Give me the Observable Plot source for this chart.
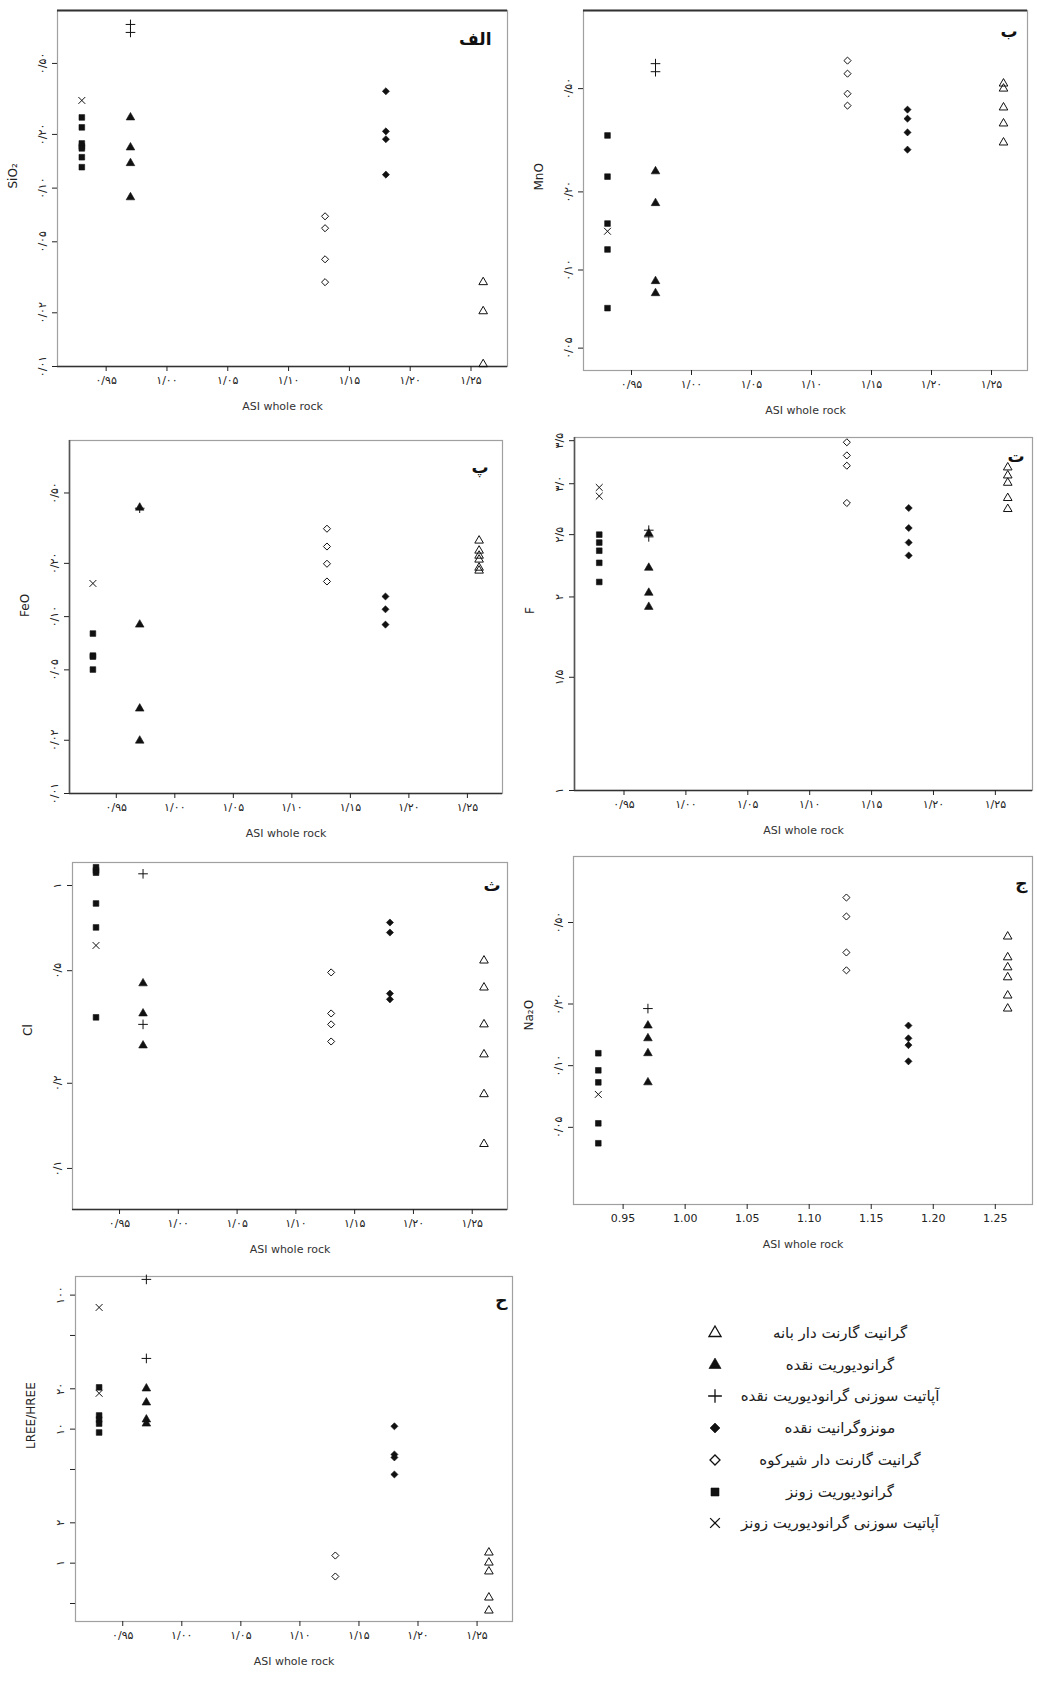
<!DOCTYPE html>
<html><head><meta charset="utf-8">
<script src="https://cdn.jsdelivr.net/npm/d3@7"></script>
<script src="https://cdn.jsdelivr.net/npm/@observablehq/plot@0.6"></script>
<style>
body{margin:0;background:#fff;}
#page{position:relative;width:1037px;height:1681px;background:#fff;overflow:hidden;font-family:"DejaVu Sans",sans-serif;}
.panel{position:absolute;}
.leg-sym{position:absolute;width:20px;height:20px;}
.leg-txt{position:absolute;width:280px;text-align:center;direction:rtl;font-size:15px;color:#222;line-height:20px;white-space:nowrap;}
</style></head><body><div id="page"></div>
<script>
// ---- categories (legend order) ----
const groups = [
  "گرانیت گارنت دار بانه",
  "گرانودیوریت نقده",
  "آپاتیت سوزنی گرانودیوریت نقده",
  "مونزوگرانیت نقده",
  "گرانیت گارنت دار شیرکوه",
  "گرانودیوریت زونز",
  "آپاتیت سوزنی گرانودیوریت زونز"
];
const groupASI = [1.26, 0.97, 0.97, 1.18, 1.13, 0.93, 0.93];
const groupSymbol = ["triangle", "triangle", "plus", "diamond2", "diamond2", "square", "times"];
const groupFilled = [false, true, false, true, false, true, false];

// ---- x ticks ----
const xTicks = [0.95, 1.00, 1.05, 1.10, 1.15, 1.20, 1.25];
const xTickLabelsFa = ["۰/۹۵", "۱/۰۰", "۱/۰۵", "۱/۱۰", "۱/۱۵", "۱/۲۰", "۱/۲۵"];
const xTickLabelsEn = ["0.95", "1.00", "1.05", "1.10", "1.15", "1.20", "1.25"];

// ---- series values (one array per group, legend order) ----
const SiO2 = [
  [0.0297, 0.0204, 0.0103],
  [0.249, 0.169, 0.138, 0.0888],
  [0.827, 0.746],
  [0.349, 0.208, 0.188, 0.119],
  [0.0695, 0.0596, 0.0399, 0.0297],
  [0.249, 0.219, 0.178, 0.171, 0.167, 0.149, 0.131],
  [0.310]
];
const MnO = [
  [0.523, 0.5, 0.423, 0.367, 0.310],
  [0.240, 0.181, 0.0906, 0.0814],
  [0.624, 0.581],
  [0.415, 0.383, 0.339, 0.291],
  [0.641, 0.571, 0.478, 0.430],
  [0.330, 0.229, 0.151, 0.120, 0.0713],
  [0.141]
];
const FeO = [
  [0.269, 0.236, 0.221, 0.210, 0.189, 0.182],
  [0.413, 0.0901, 0.0302, 0.0199],
  [0.41],
  [0.130, 0.110, 0.0901],
  [0.314, 0.249, 0.199, 0.158],
  [0.0802, 0.0602, 0.0594, 0.0502],
  [0.154]
];
const F = [
  [3.18, 3.09, 3.01, 2.85, 2.74],
  [2.51, 2.22, 2.03, 1.93],
  [2.54, 2.48],
  [2.75, 2.56, 2.43, 2.32],
  [3.48, 3.32, 3.20, 2.80],
  [2.50, 2.43, 2.36, 2.26, 2.11],
  [2.96, 2.87]
];
const Cl = [
  [0.543, 0.436, 0.323, 0.253, 0.183, 0.122],
  [0.451, 0.353, 0.272],
  [1.10, 0.323],
  [0.740, 0.682, 0.415, 0.396],
  [0.493, 0.353, 0.323, 0.281],
  [1.16, 1.13, 1.11, 0.864, 0.711, 0.342],
  [0.614]
];
const Na2O = [
  [0.427, 0.338, 0.302, 0.270, 0.220, 0.190],
  [0.157, 0.136, 0.115, 0.0829],
  [0.190],
  [0.157, 0.136, 0.126, 0.105],
  [0.662, 0.535, 0.357, 0.292],
  [0.115, 0.0949, 0.0829, 0.0523, 0.0418],
  [0.0724]
];
const LREE_HREE = [
  [1.20, 1.01, 0.867, 0.554, 0.443],
  [20.1, 15.8, 11.8, 11.0],
  [131, 33.7],
  [10.5, 6.47, 6.15, 4.59],
  [1.14, 0.795],
  [20.5, 12.65, 11.8, 11.0, 9.44],
  [80.9, 18.5]
];

// ---- y ticks and tick labels ----
const ticksSmall = [0.5, 0.2, 0.1, 0.05, 0.02, 0.01];
const ticksSmallLabels = ["۰/۵۰", "۰/۲۰", "۰/۱۰", "۰/۰۵", "۰/۰۲", "۰/۰۱"];
const ticksMnO = [0.5, 0.2, 0.1, 0.05];
const ticksMnOLabels = ["۰/۵۰", "۰/۲۰", "۰/۱۰", "۰/۰۵"];
const ticksF = [3.5, 3.0, 2.5, 2.0, 1.5, 1.0];
const ticksFLabels = ["۳/۵", "۳/۰", "۲/۵", "۲", "۱/۵", "۱"];
const ticksCl = [1, 0.5, 0.2, 0.1];
const ticksClLabels = ["۱", "۰/۵", "۰/۲", "۰/۱"];
const ticksNa = [0.5, 0.2, 0.1, 0.05];
const ticksNaLabels = ["۰/۵۰", "۰/۲۰", "۰/۱۰", "۰/۰۵"];
const ticksREE = [100, 50, 20, 10, 5, 2, 1, 0.5];
const ticksREELabels = ["۱۰۰", "۵۰", "۲۰", "۱۰", "۵", "۲", "۱", "۰/۵"];

const xTitle = "ASI whole rock";

// ---- panel layout (frame box in page pixels, letter offset) ----
const panels = [
  {letter: "الف", label: "SiO₂", values: SiO2, domain: [0.01, 0.99], ticks: ticksSmall, tickLabels: ticksSmallLabels, frame: [57, 10, 507, 366], dark: ["top", "bottom"], latin: false, lo: [-16, 22]},
  {letter: "ب", label: "MnO", values: MnO, domain: [0.041, 1.0], ticks: ticksMnO, tickLabels: ticksMnOLabels, frame: [583, 10, 1027, 370], dark: ["top"], latin: false, lo: [-10, 14]},
  {letter: "پ", label: "FeO", values: FeO, domain: [0.01, 0.99], ticks: ticksSmall, tickLabels: ticksSmallLabels, frame: [69, 440, 502, 793], dark: ["left", "bottom"], latin: false, lo: [-14, 20]},
  {letter: "ت", label: "F", values: F, domain: [1, 3.54], ticks: ticksF, tickLabels: ticksFLabels, frame: [574, 437, 1032, 790], dark: ["left", "bottom"], latin: false, lo: [-8, 12]},
  {letter: "ث", label: "Cl", values: Cl, domain: [0.0716, 1.206], ticks: ticksCl, tickLabels: ticksClLabels, frame: [72, 862, 507, 1209], dark: ["bottom"], latin: false, lo: [-7, 16]},
  {letter: "ج", label: "Na₂O", values: Na2O, domain: [0.021, 1.05], ticks: ticksNa, tickLabels: ticksNaLabels, frame: [573, 856, 1032, 1204], dark: [], latin: true, lo: [-5, 20]},
  {letter: "ح", label: "LREE/HREE", values: LREE_HREE, domain: [0.367, 137.7], ticks: ticksREE, tickLabels: ticksREELabels, frame: [75, 1276, 512, 1621], dark: [], latin: false, lo: [-5, 17]}
];
const xDomain = [0.91, 1.28];

const page = document.getElementById("page");
const ML = 56, MR = 4, MT = 6, MB = 54;

panels.forEach(p => {
  const [L, T, R, B] = p.frame;
  const yLab = new Map(p.ticks.map((t, i) => [t, p.tickLabels[i]]));
  const xLabs = p.latin ? xTickLabelsEn : xTickLabelsFa;
  const xLab = new Map(xTicks.map((t, i) => [t, xLabs[i]]));
  const rows = p.values.flatMap((arr, gi) => arr.map(v => ({asi: groupASI[gi], v, g: gi})));
  const darkRules = [];
  if (p.dark.includes("bottom")) darkRules.push(Plot.ruleY([p.domain[0]], {stroke: "#333", strokeWidth: 1.6}));
  if (p.dark.includes("top")) darkRules.push(Plot.ruleY([p.domain[1]], {stroke: "#333", strokeWidth: 2}));
  if (p.dark.includes("left")) darkRules.push(Plot.ruleX([xDomain[0]], {stroke: "#555", strokeWidth: 1.6}));
  const dots = groups.map((g, gi) => Plot.dot(rows.filter(d => d.g === gi), {
    x: "asi", y: "v",
    symbol: groupSymbol[gi],
    r: 3.2,
    fill: groupFilled[gi] ? "#111" : "none",
    stroke: "#111",
    strokeWidth: groupFilled[gi] ? 0.6 : 1
  }));
  const chart = Plot.plot({
    width: R - L + ML + MR,
    height: B - T + MT + MB,
    marginLeft: ML, marginRight: MR, marginTop: MT, marginBottom: MB,
    style: {fontFamily: "DejaVu Sans, sans-serif", fontSize: "11px", background: "transparent", overflow: "visible", color: "#222"},
    x: {domain: xDomain},
    y: {type: "log", domain: p.domain},
    marks: [
      Plot.frame({stroke: "#a0a0a0", strokeWidth: 1.2}),
      ...darkRules,
      Plot.axisX({ticks: xTicks, tickFormat: d => xLab.get(d), tickSize: 5, tickPadding: 5, label: null, fontSize: 11}),
      Plot.axisY({ticks: p.ticks, tickFormat: d => yLab.get(d), tickRotate: -90, tickSize: 5, tickPadding: 7, label: null, fontSize: 11}),
      ...dots,
      Plot.text([p.label], {frameAnchor: "left", rotate: -90, dx: -44, fontSize: 12, fill: "#222"}),
      Plot.text([xTitle], {frameAnchor: "bottom", dy: 43, fontSize: 11, fill: "#333"}),
      Plot.text([p.letter], {frameAnchor: "top-right", dx: p.lo[0], dy: p.lo[1], fontSize: 17, fontWeight: "bold", fill: "#111"})
    ]
  });
  chart.classList.add("panel");
  chart.style.left = (L - ML) + "px";
  chart.style.top = (T - MT) + "px";
  page.appendChild(chart);
});

// ---- legend ----
const symbolTypes = {triangle: d3.symbolTriangle, plus: d3.symbolPlus, diamond2: d3.symbolDiamond2, square: d3.symbolSquare, times: d3.symbolTimes};
groups.forEach((g, gi) => {
  const cy = 1333 + gi * 31.7;
  const path = d3.symbol(symbolTypes[groupSymbol[gi]], Math.PI * 4.5 * 4.5)();
  const sym = document.createElement("div");
  sym.className = "leg-sym";
  sym.style.left = (715 - 10) + "px";
  sym.style.top = (cy - 10) + "px";
  sym.innerHTML = `<svg width="20" height="20" viewBox="-10 -10 20 20"><path d="${path}" fill="${groupFilled[gi] ? "#111" : "none"}" stroke="#111" stroke-width="${groupFilled[gi] ? 0.6 : 1.3}"/></svg>`;
  page.appendChild(sym);
  const txt = document.createElement("div");
  txt.className = "leg-txt";
  txt.style.left = (840 - 140) + "px";
  txt.style.top = (cy - 10) + "px";
  txt.textContent = g;
  page.appendChild(txt);
});
</script>
</body></html>
